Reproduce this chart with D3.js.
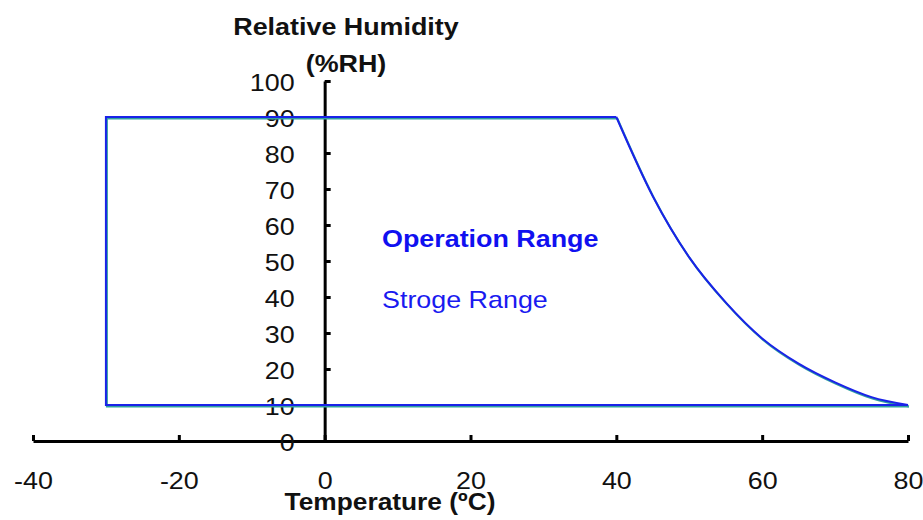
<!DOCTYPE html>
<html>
<head>
<meta charset="utf-8">
<script src="https://cdn.jsdelivr.net/npm/d3@7"></script>
<style>
html,body{margin:0;padding:0;background:#fff;}
svg{display:block;}
text{font-family:"Liberation Sans",Arial,sans-serif;}
</style>
</head>
<body>
<svg id="chart" width="923" height="520"></svg>
<script>
// ---- data ----
const xTicks = [-40, -20, 0, 20, 40, 60, 80];
const yTicks = [0, 10, 20, 30, 40, 50, 60, 70, 80, 90, 100];
// rectangular part of the range outline (temperature, %RH)
const boxTemp = [40, -30, -30, 80];
const boxRH   = [90, 90, 10, 10];
// high-temperature limit curve
const curveTemp = [40, 45, 50, 55, 60, 65, 70, 75, 80];
const curveRH   = [90, 68, 51, 38.5, 28.5, 21.5, 16.3, 12.2, 10];
const xTitle = "Temperature (ºC)";
const yTitle = ["Relative Humidity", "(%RH)"];
const labelOperation = "Operation Range";
const labelStorage = "Stroge Range";

const SX = 1.12; // horizontal glyph stretch seen in the reference
const svg = d3.select("#chart");
const x = d3.scaleLinear().domain([-40, 80]).range([33, 908]);
const y = d3.scaleLinear().domain([0, 100]).range([441, 81]);
const fmt = d => String(d);

function stretch(sel, x0, y0) {
  sel.attr("x", 0).attr("y", null)
     .attr("transform", `translate(${x0},${y0}) scale(${SX},1)`);
}

// x axis
const gx = svg.append("g").attr("transform", `translate(0,${y(0)})`)
  .call(d3.axisBottom(x).tickValues(xTicks).tickSize(-6).tickSizeOuter(0).tickPadding(32).tickFormat(fmt));
// y axis
const gy = svg.append("g").attr("transform", `translate(${x(0)},0)`)
  .call(d3.axisLeft(y).tickValues(yTicks).tickSize(-6).tickSizeOuter(0).tickPadding(30).tickFormat(fmt));

[gx, gy].forEach(g => {
  g.select(".domain").attr("stroke", "#000").attr("stroke-width", 3);
  g.selectAll(".tick line").attr("stroke", "#000").attr("stroke-width", 3);
  g.selectAll(".tick text").attr("fill", "#111").attr("font-size", 24)
    .attr("font-family", "'Liberation Sans', Arial, sans-serif");
});
gx.selectAll(".tick text").each(function(){
  d3.select(this).attr("dy", null).attr("y", null).attr("x", 0)
    .attr("transform", `translate(0,48) scale(${SX},1)`);
});
gy.selectAll(".tick text").each(function(){
  d3.select(this).attr("dy", null).attr("x", 0)
    .attr("transform", `translate(-30,9) scale(${SX},1)`);
});
gx.attr("font-family", null); gy.attr("font-family", null);

// outline lines
const pts = (tx, ty) => tx.map((t, i) => [x(t), y(ty[i])]);
const lineLin = d3.line();
const lineCurve = d3.line().curve(d3.curveMonotoneX);

function drawRange(color, width, dx, dy) {
  const g = svg.append("g").attr("transform", `translate(${dx},${dy})`);
  g.append("path").attr("d", lineLin(pts(boxTemp, boxRH)))
    .attr("fill", "none").attr("stroke", color).attr("stroke-width", width);
  g.append("path").attr("d", lineCurve(pts(curveTemp, curveRH)))
    .attr("fill", "none").attr("stroke", color).attr("stroke-width", width);
}
drawRange("#30a0a0", 2, 1, 1.5);   // storage range
drawRange("#1a22e8", 2, 0, 0);     // operation range

// titles
function addText(str, x0, y0, opts) {
  const t = svg.append("text").text(str)
    .attr("font-size", opts.size || 24)
    .attr("font-weight", opts.bold ? "bold" : "normal")
    .attr("fill", opts.fill || "#111")
    .attr("text-anchor", opts.anchor || "start");
  stretch(t, x0, y0);
  return t;
}
addText(yTitle[0], 346, 35, {bold: true, anchor: "middle"});
addText(yTitle[1], 346, 72, {bold: true, anchor: "middle"});
addText(xTitle, 390, 510, {bold: true, anchor: "middle", size: 23.5});
addText(labelOperation, 382, 247, {bold: true, fill: "#1010f0"});
addText(labelStorage, 382, 308, {fill: "#1a1af0"});
</script>
</body>
</html>
